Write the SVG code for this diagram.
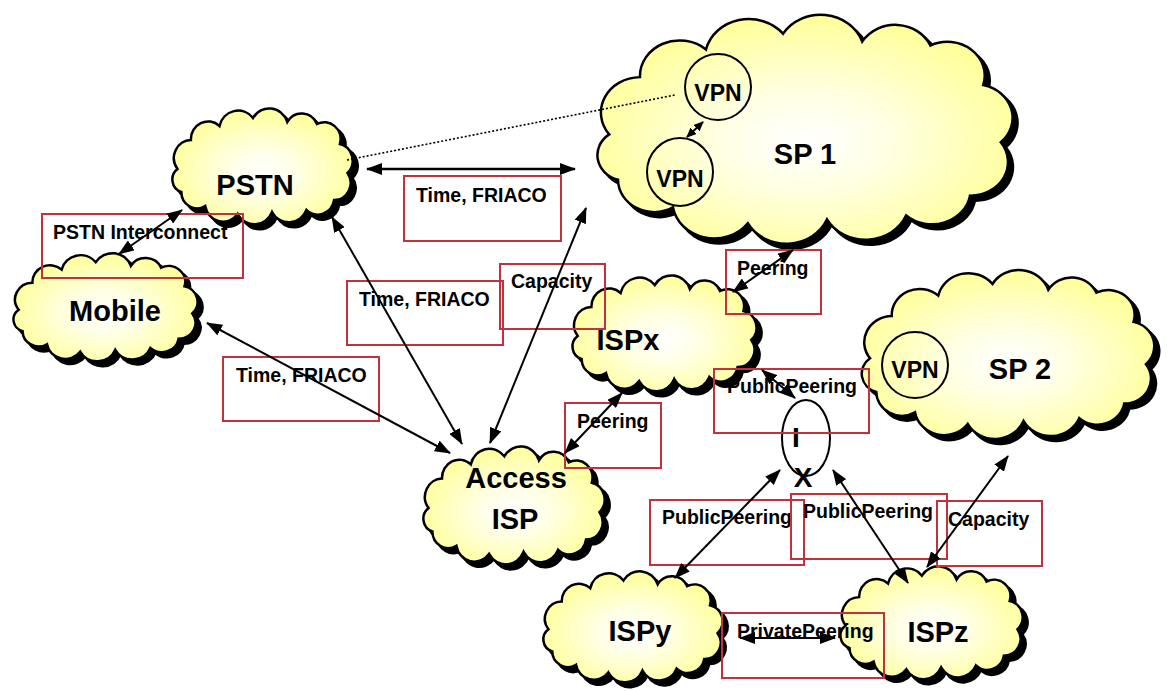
<svg xmlns="http://www.w3.org/2000/svg" xmlns:xlink="http://www.w3.org/1999/xlink" width="1172" height="691" viewBox="0 0 1172 691">
<style>
.shadow{fill:#000;stroke:#000;stroke-width:2.5}
.cloud{fill:url(#cloudFill);stroke:#000;stroke-width:2.5}
.big{font-family:"Liberation Sans",Arial,sans-serif;font-weight:bold;font-size:29px;fill:#000;text-anchor:middle}
.vpn{font-family:"Liberation Sans",Arial,sans-serif;font-weight:bold;font-size:23px;fill:#000;text-anchor:middle}
.lbl{font-family:"Liberation Sans",Arial,sans-serif;font-weight:bold;font-size:19.5px;fill:#000}
.box{fill:none;stroke:#c0323c;stroke-width:2}
.circ{fill:none;stroke:#000;stroke-width:2}
.con{fill:none;stroke:#000;stroke-width:2;marker-start:url(#ah);marker-end:url(#ah)}
</style>
<defs>
<radialGradient id="cloudFill" cx="0.5" cy="0.55" r="0.55">
<stop offset="0" stop-color="#ffffff"/>
<stop offset="0.35" stop-color="#ffffe6"/>
<stop offset="1" stop-color="#ffff99"/>
</radialGradient>
<path id="cloudShape" vector-effect="non-scaling-stroke" d="M11,64 A18,18 0 0 1 25,35 A18,18 0 0 1 55,21 A20,20 0 0 1 90,13 A20,20 0 0 1 126,17 A17.5,17.5 0 0 1 157,19 A17,17 0 0 1 181,39 A17,17 0 0 1 189,68 A17,17 0 0 1 175,95 A17.5,17.5 0 0 1 146,105 A20,20 0 0 1 110,107 A20,20 0 0 1 74,109 A19,19 0 0 1 40,101 A16.5,16.5 0 0 1 15,87 A13,13 0 0 1 11,64 Z"/>
<marker id="ah" viewBox="0 0 16 12" refX="15" refY="6" markerWidth="16" markerHeight="12" markerUnits="userSpaceOnUse" orient="auto-start-reverse">
<path d="M0,0 L16,6 L0,12 z" fill="#000"/>
</marker>
<marker id="ahs" viewBox="0 0 10 9" refX="9" refY="4.5" markerWidth="10" markerHeight="9" markerUnits="userSpaceOnUse" orient="auto-start-reverse">
<path d="M0,0 L10,4.5 L0,9 z" fill="#000"/>
</marker>
</defs>
<rect width="1172" height="691" fill="#fff"/>

<g id="nodes">
<g id="sp1">
<use href="#cloudShape" class="shadow" transform="translate(590,13) scale(2.2,1.975)"/>
<use href="#cloudShape" class="cloud" transform="translate(585,8) scale(2.2,1.975)"/>
<text class="big" x="805" y="164">SP 1</text>
</g>
<g id="vpn1">
<ellipse class="circ" cx="718" cy="87" rx="33" ry="33"/>
<text class="vpn" x="718" y="101">VPN</text>
</g>
<g id="vpn2">
<ellipse class="circ" cx="680" cy="172" rx="33" ry="34"/>
<text class="vpn" x="680" y="187">VPN</text>
</g>
<g id="pstn">
<use href="#cloudShape" class="shadow" transform="translate(172,110) scale(0.955,1)"/>
<use href="#cloudShape" class="cloud" transform="translate(167,105) scale(0.955,1)"/>
<text class="big" x="255" y="195">PSTN</text>
</g>
<g id="mobile">
<use href="#cloudShape" class="shadow" transform="translate(13,255) scale(0.975,0.933)"/>
<use href="#cloudShape" class="cloud" transform="translate(8,250) scale(0.975,0.933)"/>
<text class="big" x="115" y="321">Mobile</text>
</g>
<g id="ispx">
<use href="#cloudShape" class="shadow" transform="translate(572,277) scale(0.975,1)"/>
<use href="#cloudShape" class="cloud" transform="translate(567,272) scale(0.975,1)"/>
<text class="big" x="628" y="350">ISPx</text>
</g>
<g id="access-isp">
<use href="#cloudShape" class="shadow" transform="translate(423,448) scale(0.96,1.017)"/>
<use href="#cloudShape" class="cloud" transform="translate(418,443) scale(0.96,1.017)"/>
<text class="big" x="516" y="488">Access</text>
<text class="big" x="515" y="529">ISP</text>
</g>
<g id="sp2">
<use href="#cloudShape" class="shadow" transform="translate(858,270) scale(1.55,1.458)"/>
<use href="#cloudShape" class="cloud" transform="translate(853,265) scale(1.55,1.458)"/>
<text class="big" x="1020" y="379">SP 2</text>
</g>
<g id="vpn3">
<ellipse class="circ" cx="915" cy="365" rx="33" ry="33"/>
<text class="vpn" x="915" y="378">VPN</text>
</g>
<g id="ispy">
<use href="#cloudShape" class="shadow" transform="translate(543,573) scale(0.95,0.958)"/>
<use href="#cloudShape" class="cloud" transform="translate(538,568) scale(0.95,0.958)"/>
<text class="big" x="640" y="641">ISPy</text>
</g>
<g id="ispz">
<use href="#cloudShape" class="shadow" transform="translate(840,568) scale(0.965,0.975)"/>
<use href="#cloudShape" class="cloud" transform="translate(835,563) scale(0.965,0.975)"/>
<text class="big" x="938" y="642">ISPz</text>
</g>
<g id="ix">
<ellipse class="circ" cx="806" cy="438" rx="24" ry="38"/>
<text class="big" style="font-size:28px" x="796" y="447">I</text>
<text class="big" style="font-size:28px" x="803" y="487">X</text>
</g>
</g>

<g id="labels">
<rect class="box" x="404" y="176" width="157" height="65"/>
<text class="lbl" x="416" y="202">Time, FRIACO</text>
<rect class="box" x="42" y="214" width="201" height="64"/>
<text class="lbl" x="53" y="239">PSTN Interconnect</text>
<rect class="box" x="347" y="281" width="156" height="64"/>
<text class="lbl" x="359" y="306">Time, FRIACO</text>
<rect class="box" x="500" y="264" width="105" height="65"/>
<text class="lbl" x="511" y="288">Capacity</text>
<rect class="box" x="223" y="357" width="156" height="64"/>
<text class="lbl" x="236" y="382">Time, FRIACO</text>
<rect class="box" x="726" y="250" width="95" height="64"/>
<text class="lbl" x="737" y="275">Peering</text>
<rect class="box" x="565" y="403" width="96" height="65"/>
<text class="lbl" x="577" y="428">Peering</text>
<rect class="box" x="714" y="369" width="155" height="64"/>
<text class="lbl" x="727" y="393">PublicPeering</text>
<rect class="box" x="650" y="500" width="154" height="65"/>
<text class="lbl" x="662" y="524">PublicPeering</text>
<rect class="box" x="791" y="494" width="156" height="65"/>
<text class="lbl" x="803" y="518">PublicPeering</text>
<rect class="box" x="937" y="501" width="105" height="65"/>
<text class="lbl" x="948" y="526">Capacity</text>
<rect class="box" x="722" y="613" width="162" height="65"/>
<text class="lbl" x="737" y="638">PrivatePeering</text>
</g>

<g id="connectors">
<line class="con" style="stroke-width:2.5" x1="367" y1="169" x2="575" y2="169"/>
<line x1="347" y1="160" x2="675" y2="95" stroke="#000" stroke-width="1.6" stroke-dasharray="2 2"/>
<line x1="703" y1="122" x2="687" y2="137" stroke="#000" stroke-width="2" marker-start="url(#ahs)" marker-end="url(#ahs)"/>
<line class="con" x1="182" y1="210" x2="119" y2="254"/>
<line class="con" x1="332" y1="217" x2="462" y2="444"/>
<line class="con" x1="207" y1="323" x2="450" y2="453"/>
<line class="con" x1="490" y1="443" x2="586" y2="208"/>
<line class="con" x1="565" y1="453" x2="622" y2="393"/>
<line class="con" x1="733" y1="292" x2="793" y2="250"/>
<line class="con" x1="762" y1="370" x2="795" y2="398"/>
<line class="con" x1="780" y1="470" x2="675" y2="578"/>
<line class="con" x1="833" y1="470" x2="908" y2="583"/>
<line class="con" x1="1008" y1="456" x2="927" y2="567"/>
<line class="con" x1="740" y1="638" x2="835" y2="638"/>
</g>
</svg>
